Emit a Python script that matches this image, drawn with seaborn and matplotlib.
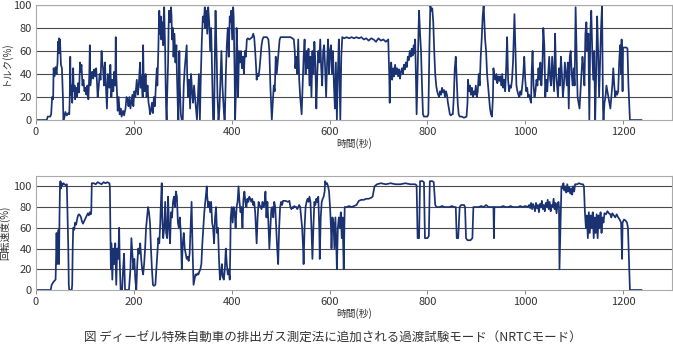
import pandas as pd
import matplotlib
matplotlib.use('Agg')
import matplotlib.pyplot as plt
import seaborn as sns

# --- Datos (segundos, %) ---
# Cada línea de tiempos corresponde a la misma línea de valores (10 por línea)

torque_t = [
    0, 22, 24, 29, 31, 33, 35, 36, 38, 40,
    42, 44, 45, 46, 47, 48, 49, 51, 53, 55,
    56, 58, 60, 63, 66, 68, 69, 70, 71, 73,
    74, 76, 77, 79, 80, 82, 84, 86, 88, 89,
    90, 91, 93, 95, 97, 99, 101, 103, 105, 107,
    109, 110, 111, 113, 115, 117, 119, 121, 123, 125,
    126, 128, 130, 132, 134, 135, 137, 139, 141, 142,
    144, 145, 147, 148, 150, 152, 154, 156, 158, 160,
    162, 163, 164, 166, 167, 169, 171, 173, 175, 178,
    180, 183, 185, 187, 189, 191, 193, 195, 197, 199,
    201, 203, 205, 206, 208, 210, 212, 213, 214, 216,
    218, 219, 220, 222, 224, 226, 228, 230, 232, 233,
    235, 237, 239, 241, 243, 245, 247, 248, 250, 251,
    252, 253, 255, 256, 258, 260, 261, 262, 263, 264,
    265, 266, 267, 268, 270, 271, 272, 274, 276, 277,
    278, 280, 281, 283, 285, 287, 288, 290, 291, 293,
    294, 296, 298, 300, 302, 304, 306, 308, 309, 311,
    313, 315, 317, 319, 321, 323, 325, 327, 329, 331,
    333, 334, 335, 337, 339, 341, 343, 345, 346, 348,
    350, 352, 354, 356, 358, 360, 362, 364, 366, 367,
    369, 371, 373, 375, 377, 379, 381, 383, 385, 386,
    388, 390, 392, 394, 396, 397, 399, 401, 403, 404,
    406, 407, 409, 410, 412, 413, 415, 417, 419, 421,
    423, 425, 427, 429, 431, 433, 436, 439, 442, 444,
    446, 448, 450, 451, 453, 455, 457, 459, 461, 463,
    465, 468, 472, 475, 477, 479, 481, 482, 484, 486,
    488, 490, 492, 494, 496, 498, 500, 505, 510, 515,
    520, 524, 527, 529, 530, 532, 534, 536, 538, 540,
    542, 543, 545, 547, 549, 551, 553, 555, 557, 559,
    561, 563, 565, 567, 569, 571, 573, 575, 577, 579,
    581, 583, 585, 587, 589, 591, 593, 595, 597, 599,
    601, 603, 605, 607, 609, 611, 613, 615, 617, 619,
    621, 622, 624, 626, 630, 635, 640, 645, 650, 655,
    660, 665, 670, 675, 680, 685, 690, 695, 700, 705,
    710, 715, 720, 722, 723, 724, 726, 728, 730, 732,
    734, 736, 738, 740, 742, 744, 746, 748, 750, 752,
    754, 756, 758, 760, 762, 764, 766, 768, 770, 772,
    774, 775, 776, 778, 780, 782, 783, 785, 787, 789,
    791, 793, 796, 800, 802, 804, 806, 808, 810, 812,
    814, 816, 818, 820, 822, 824, 826, 828, 830, 832,
    834, 836, 838, 840, 842, 844, 846, 848, 850, 852,
    854, 856, 858, 860, 862, 864, 866, 870, 875, 880,
    882, 883, 885, 887, 889, 891, 893, 895, 897, 899,
    901, 903, 905, 907, 909, 911, 913, 915, 917, 918,
    920, 922, 924, 926, 928, 930, 932, 934, 935, 937,
    939, 941, 943, 945, 947, 949, 951, 953, 955, 957,
    959, 961, 963, 965, 967, 969, 971, 973, 975, 978,
    980, 982, 984, 986, 988, 990, 992, 994, 996, 998,
    1000, 1002, 1004, 1006, 1008, 1010, 1012, 1013, 1015, 1017,
    1019, 1021, 1023, 1025, 1027, 1029, 1031, 1033, 1035, 1037,
    1039, 1041, 1043, 1045, 1047, 1049, 1051, 1053, 1055, 1057,
    1059, 1061, 1063, 1065, 1067, 1069, 1071, 1073, 1075, 1077,
    1079, 1081, 1083, 1085, 1087, 1089, 1091, 1093, 1095, 1097,
    1099, 1101, 1103, 1105, 1107, 1109, 1111, 1113, 1115, 1117,
    1119, 1121, 1123, 1125, 1127, 1129, 1131, 1133, 1135, 1137,
    1139, 1141, 1143, 1145, 1147, 1149, 1151, 1153, 1155, 1157,
    1159, 1160, 1162, 1164, 1166, 1168, 1170, 1172, 1174, 1176,
    1178, 1180, 1182, 1184, 1186, 1188, 1190, 1192, 1194, 1196,
    1197, 1199, 1200, 1203, 1207, 1209, 1211, 1214, 1238,
]
torque_v = [
    0, 0, 3, 3, 5, 20, 18, 45, 38, 46,
    40, 50, 68, 62, 71, 58, 70, 48, 45, 20,
    0, 2, 7, 4, 6, 5, 20, 55, 22, 30,
    15, 45, 25, 30, 18, 28, 20, 32, 24, 38,
    50, 42, 48, 30, 35, 25, 28, 22, 30, 18,
    40, 65, 30, 38, 42, 36, 44, 38, 45, 30,
    20, 28, 40, 35, 60, 52, 45, 30, 50, 38,
    20, 10, 40, 35, 28, 48, 20, 35, 25, 42,
    30, 72, 40, 18, 8, 20, 5, 10, 3, 8,
    4, 10, 20, 18, 12, 20, 10, 16, 22, 12,
    25, 20, 30, 35, 22, 30, 45, 50, 28, 38,
    20, 65, 35, 25, 40, 20, 30, 15, 10, 5,
    8, 15, 6, 20, 12, 30, 45, 30, 60, 80,
    95, 75, 90, 70, 85, 65, 90, 98, 80, 60,
    30, 10, 0, 20, 50, 80, 95, 85, 98, 90,
    70, 80, 55, 75, 50, 65, 40, 10, 0, 60,
    30, 5, 0, 0, 30, 45, 55, 65, 40, 20,
    35, 10, 40, 25, 15, 30, 20, 10, 0, 20,
    40, 20, 0, 40, 70, 90, 85, 98, 80, 95,
    75, 98, 85, 60, 80, 40, 0, 0, 70, 95,
    60, 20, 0, 10, 35, 60, 30, 15, 0, 0,
    40, 65, 80, 55, 90, 85, 95, 70, 98, 90,
    40, 0, 30, 80, 55, 20, 60, 50, 60, 45,
    55, 40, 60, 55, 70, 71, 70, 71, 72, 75,
    72, 60, 45, 35, 40, 38, 45, 55, 65, 70,
    72, 72, 72, 70, 60, 30, 10, 0, 15, 30,
    25, 55, 40, 50, 60, 70, 72, 72, 72, 72,
    72, 71, 70, 60, 45, 55, 40, 70, 35, 20,
    10, 5, 30, 55, 70, 40, 60, 45, 62, 30,
    55, 20, 60, 40, 68, 50, 10, 40, 60, 50,
    70, 45, 30, 60, 65, 45, 20, 50, 70, 40,
    60, 65, 40, 60, 30, 10, 50, 0, 40, 70,
    20, 0, 55, 72, 71, 72, 71, 72, 71, 72,
    71, 72, 70, 71, 69, 71, 70, 68, 71, 69,
    70, 68, 70, 40, 15, 40, 50, 35, 45, 38,
    48, 40, 45, 38, 44, 36, 42, 45, 40, 48,
    44, 50, 46, 55, 52, 60, 55, 62, 56, 65,
    58, 70, 50, 5, 40, 80, 95, 75, 60, 30,
    5, 3, 3, 3, 5, 60, 100, 95, 97, 85,
    60, 40, 30, 25, 22, 20, 25, 22, 28, 24,
    26, 20, 25, 22, 15, 10, 5, 4, 5, 5,
    20, 45, 55, 35, 15, 5, 3, 3, 2, 3,
    15, 35, 25, 30, 22, 28, 20, 25, 22, 30,
    20, 25, 40, 30, 55, 70, 90, 100, 80, 70,
    60, 40, 30, 20, 10, 5, 3, 20, 45, 38,
    35, 40, 32, 38, 34, 38, 30, 40, 28, 35,
    25, 45, 72, 35, 25, 30, 28, 35, 50, 92,
    60, 30, 25, 22, 20, 25, 22, 30, 40, 55,
    35, 25, 28, 20, 22, 18, 15, 40, 60, 30,
    20, 25, 35, 30, 45, 35, 50, 30, 45, 80,
    65, 20, 35, 25, 40, 55, 35, 30, 55, 40,
    25, 75, 40, 30, 20, 45, 30, 55, 40, 20,
    30, 50, 40, 30, 50, 10, 55, 60, 40, 30,
    45, 30, 98, 60, 20, 15, 10, 25, 40, 55,
    45, 30, 75, 85, 60, 75, 0, 75, 95, 60,
    35, 60, 0, 40, 90, 60, 20, 50, 80, 100,
    10, 0, 15, 20, 30, 25, 20, 15, 10, 20,
    30, 45, 30, 20, 25, 22, 25, 50, 65, 40,
    70, 25, 63, 63, 63, 62, 30, 0, 0,
]

speed_t = [
    0, 30, 32, 36, 40, 41, 42, 43, 44, 45,
    46, 47, 48, 49, 50, 51, 52, 54, 56, 58,
    61, 63, 64, 66, 67, 68, 73, 74, 75, 76,
    78, 80, 82, 84, 86, 88, 90, 92, 94, 96,
    98, 100, 102, 104, 106, 108, 110, 112, 113, 114,
    118, 122, 126, 130, 134, 138, 142, 146, 150, 151,
    153, 154, 156, 158, 160, 162, 164, 166, 168, 170,
    171, 173, 176, 178, 180, 182, 185, 190, 193, 195,
    197, 199, 201, 203, 205, 207, 209, 211, 213, 215,
    217, 219, 221, 223, 225, 227, 229, 231, 233, 235,
    237, 239, 241, 244, 246, 248, 250, 252, 254, 255,
    257, 258, 260, 262, 264, 266, 268, 270, 272, 274,
    276, 278, 280, 282, 284, 286, 288, 290, 292, 294,
    296, 298, 300, 302, 304, 306, 308, 310, 312, 314,
    316, 318, 320, 322, 324, 326, 328, 330, 332, 334,
    336, 338, 340, 342, 344, 346, 348, 349, 350, 352,
    354, 356, 358, 360, 362, 364, 366, 368, 370, 372,
    374, 376, 378, 380, 382, 384, 386, 388, 390, 392,
    394, 396, 397, 398, 400, 402, 404, 406, 408, 410,
    412, 414, 416, 418, 420, 422, 424, 426, 428, 430,
    432, 434, 436, 438, 440, 442, 444, 446, 448, 450,
    451, 453, 455, 457, 459, 461, 463, 465, 467, 469,
    471, 473, 475, 477, 479, 481, 483, 485, 487, 489,
    491, 493, 495, 497, 499, 501, 503, 505, 510, 515,
    518, 520, 522, 524, 526, 528, 530, 532, 534, 536,
    538, 540, 542, 544, 546, 547, 549, 551, 553, 555,
    557, 559, 561, 563, 565, 567, 569, 571, 573, 575,
    577, 579, 580, 582, 584, 586, 588, 590, 591, 593,
    595, 597, 599, 601, 603, 604, 606, 608, 610, 612,
    614, 615, 617, 619, 621, 623, 625, 627, 628, 629,
    631, 635, 640, 645, 650, 655, 660, 665, 670, 675,
    680, 685, 688, 692, 697, 705, 715, 725, 735, 745,
    755, 765, 775, 778, 780, 783, 785, 790, 793, 795,
    800, 803, 805, 810, 813, 816, 819, 825, 830, 835,
    840, 845, 850, 855, 858, 860, 863, 866, 869, 875,
    877, 879, 882, 888, 892, 894, 900, 905, 910, 915,
    920, 925, 930, 935, 936, 937, 940, 945, 950, 955,
    960, 965, 970, 975, 980, 985, 990, 995, 1000, 1005,
    1008, 1010, 1012, 1014, 1016, 1018, 1020, 1022, 1024, 1026,
    1028, 1030, 1032, 1034, 1036, 1038, 1040, 1042, 1044, 1046,
    1048, 1050, 1052, 1054, 1056, 1058, 1060, 1062, 1064, 1066,
    1068, 1069, 1070, 1072, 1074, 1076, 1078, 1080, 1082, 1084,
    1086, 1088, 1090, 1092, 1094, 1096, 1098, 1100, 1102, 1106,
    1110, 1115, 1118, 1120, 1122, 1124, 1126, 1128, 1130, 1132,
    1134, 1136, 1138, 1140, 1142, 1144, 1146, 1148, 1150, 1152,
    1154, 1156, 1158, 1160, 1162, 1165, 1168, 1171, 1174, 1176,
    1178, 1181, 1184, 1187, 1190, 1193, 1196, 1198, 1199, 1202,
    1205, 1208, 1210, 1212, 1214, 1238,
]
speed_v = [
    0, 0, 5, 8, 10, 30, 55, 25, 50, 30,
    58, 25, 70, 100, 105, 98, 103, 101, 103, 102,
    101, 102, 80, 40, 5, 0, 0, 5, 40, 60,
    58, 65, 63, 68, 72, 73, 72, 70, 66, 64,
    66, 68, 70, 72, 74, 72, 75, 73, 76, 103,
    103, 102, 104, 103, 102, 104, 103, 104, 103, 100,
    20, 45, 10, 40, 25, 45, 5, 40, 30, 60,
    30, 0, 0, 20, 35, 0, 0, 0, 20, 50,
    35, 20, 30, 10, 0, 25, 40, 35, 45, 30,
    20, 15, 25, 40, 60, 70, 80, 75, 65, 40,
    20, 5, 4, 5, 20, 35, 50, 45, 65, 80,
    103, 70, 50, 60, 85, 55, 50, 90, 60, 45,
    75, 70, 85, 90, 80, 95, 90, 65, 60, 70,
    55, 20, 45, 55, 40, 35, 30, 32, 28, 35,
    60, 85, 40, 5, 10, 15, 14, 16, 15, 18,
    20, 25, 45, 60, 75, 85, 95, 100, 90, 80,
    85, 75, 85, 65, 60, 45, 70, 80, 55, 60,
    30, 10, 15, 25, 12, 10, 20, 40, 25, 15,
    20, 10, 35, 70, 80, 65, 80, 75, 60, 80,
    85, 100, 85, 75, 80, 60, 88, 95, 85, 80,
    88, 85, 90, 88, 85, 88, 82, 85, 75, 55,
    45, 70, 85, 82, 80, 78, 85, 80, 83, 95,
    70, 85, 65, 40, 60, 78, 80, 70, 85, 80,
    60, 40, 25, 60, 80, 85, 82, 86, 86, 85,
    86, 80, 78, 80, 79, 81, 80, 80, 78, 80,
    82, 80, 70, 60, 40, 25, 60, 80, 85, 88,
    85, 90, 85, 60, 30, 60, 85, 82, 88, 85,
    90, 60, 30, 70, 85, 88, 90, 95, 105, 102,
    103, 100, 95, 80, 60, 40, 70, 65, 40, 70,
    40, 20, 60, 70, 60, 75, 50, 70, 40, 20,
    80, 80, 81, 80, 81, 82, 86, 87, 87, 88,
    88, 89, 90, 100, 102, 103, 102, 103, 102, 102,
    103, 102, 102, 101, 50, 50, 105, 105, 104, 50,
    50, 52, 105, 105, 104, 82, 80, 80, 81, 80,
    80, 80, 81, 80, 80, 50, 50, 80, 82, 82,
    80, 50, 48, 48, 50, 80, 80, 80, 81, 80,
    82, 80, 80, 80, 50, 80, 80, 80, 80, 81,
    80, 80, 81, 80, 80, 80, 81, 80, 81, 80,
    82, 79, 84, 78, 83, 80, 76, 84, 79, 82,
    75, 83, 80, 86, 78, 82, 76, 84, 80, 87,
    78, 85, 76, 82, 80, 88, 78, 84, 74, 82,
    85, 80, 20, 60, 100, 98, 103, 96, 100, 94,
    102, 95, 99, 93, 98, 92, 100, 95, 102, 102,
    103, 102, 102, 100, 75, 60, 72, 50, 75, 55,
    72, 60, 75, 50, 70, 55, 73, 50, 72, 60,
    75, 55, 70, 65, 74, 73, 76, 74, 73, 70,
    74, 72, 70, 73, 70, 68, 65, 30, 65, 68,
    67, 65, 60, 30, 0, 0,
]

df_torque = pd.DataFrame({'tiempo': torque_t, 'valor': torque_v})
df_speed = pd.DataFrame({'tiempo': speed_t, 'valor': speed_v})

# --- Estilo ---
sns.set_style("white")
plt.rcParams['font.family'] = ['Noto Sans CJK JP', 'DejaVu Sans']

color_linea = '#1b3272'
color_grid = '#4a4a4a'
color_texto = '#333333'

fig = plt.figure(figsize=(6.73, 3.53), dpi=100)
ax1 = fig.add_axes([0.0535, 0.660, 0.945, 0.326])
ax2 = fig.add_axes([0.0535, 0.1785, 0.945, 0.323])


def formato_panel(ax, ymax, ylabel):
    ax.set_xlim(0, 1300)
    ax.set_ylim(0, ymax)
    ax.set_yticks([0, 20, 40, 60, 80, 100])
    ax.set_xticks([0, 200, 400, 600, 800, 1000, 1200])
    for y in [20, 40, 60, 80, 100]:
        ax.axhline(y, color=color_grid, lw=0.8, zorder=0)
    for lado in ['top', 'right', 'bottom', 'left']:
        ax.spines[lado].set_color('#aaaaaa')
        ax.spines[lado].set_linewidth(0.8)
    ax.tick_params(axis='y', length=0, labelsize=8, labelcolor=color_texto, pad=3)
    ax.tick_params(axis='x', length=3, width=0.7, color='#888888', labelsize=8,
                   labelcolor=color_texto, pad=2, direction='out', bottom=True)
    ax.set_xlabel('時間(秒)', fontsize=7, color=color_texto, labelpad=1)
    ax.set_ylabel(ylabel, fontsize=7, color=color_texto, labelpad=2)


sns.lineplot(data=df_torque, x='tiempo', y='valor', ax=ax1, color=color_linea,
             lw=1.25, estimator=None, sort=False)
formato_panel(ax1, 100, 'トルク(%)')

sns.lineplot(data=df_speed, x='tiempo', y='valor', ax=ax2, color=color_linea,
             lw=1.25, estimator=None, sort=False)
formato_panel(ax2, 110, '回転速度(%)')

fig.text(0.495, 0.022, '図 ディーゼル特殊自動車の排出ガス測定法に追加される過渡試験モード（NRTCモード）',
         ha='center', va='bottom', fontsize=9, color=color_texto)

plt.savefig('out.png', dpi=100)
plt.close()
